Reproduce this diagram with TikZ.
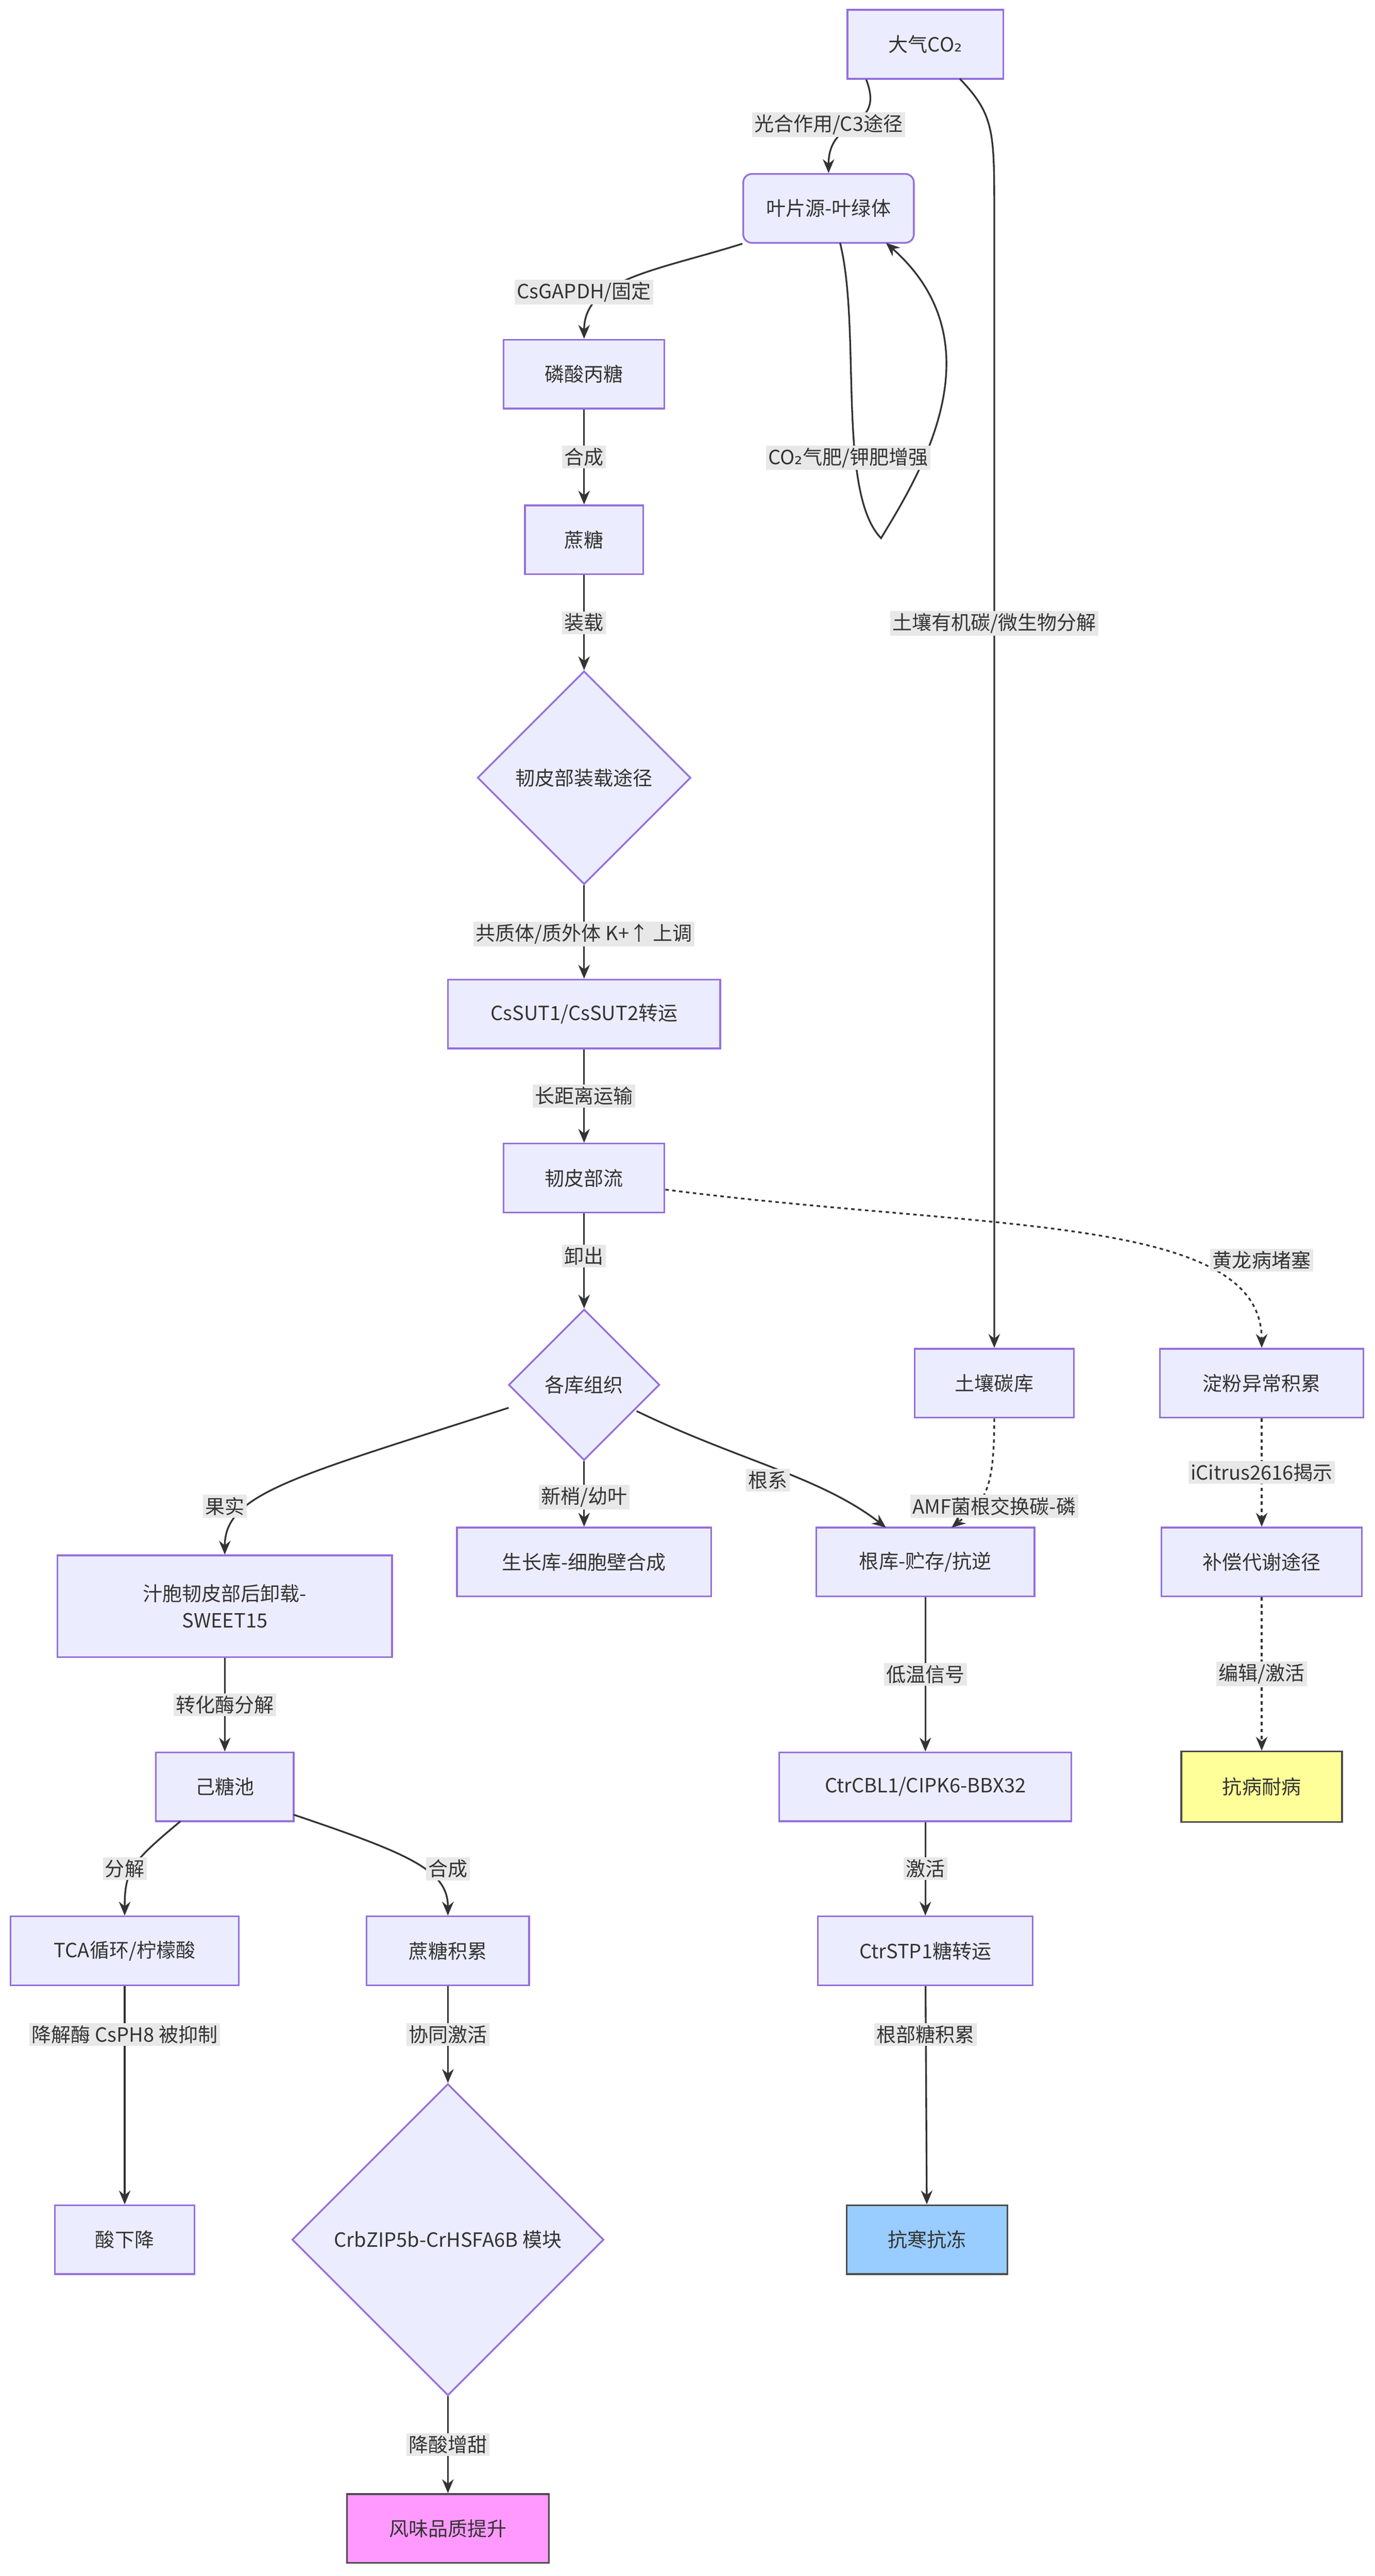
\documentclass[tikz,border=0pt]{standalone}
\usepackage{fontspec}
\setmainfont{Noto Sans CJK SC}
\newfontfamily\djv{DejaVu Sans}
\newcommand{\subtwo}{{\djv ₂}}
\usetikzlibrary{shapes.geometric,arrows.meta}
\definecolor{nf}{HTML}{ECECFF}
\definecolor{nb}{HTML}{9370DB}
\definecolor{tx}{HTML}{333333}
\definecolor{lb}{HTML}{E8E8E8}
\begin{document}
\begin{tikzpicture}[x=0.1cm,y=-0.1cm,
  font=\fontsize{34}{46}\selectfont, text=tx,
  box/.style={draw=nb,fill=nf,line width=3pt,inner sep=0pt,align=center},
  dia/.style={diamond,draw=nb,fill=nf,line width=3pt,inner sep=0pt,aspect=1,align=center},
  e/.style={draw=tx,line width=3pt,-{Stealth[length=24pt,width=20pt]}},
  d/.style={e,dash pattern=on 6pt off 6pt},
  lab/.style={fill=lb,inner sep=4pt,text=tx}]
\fill[white] (0,0) rectangle (838,1570);
\node[box,minimum width=9.5cm,minimum height=4.2cm] (co2) at (564,27) {大气CO\subtwo};
\node[box,rounded corners=15pt,minimum width=10.4cm,minimum height=4.2cm] (leaf) at (505,127) {叶片源-叶绿体};
\node[box,minimum width=9.8cm,minimum height=4.2cm] (tp) at (356,228) {磷酸丙糖};
\node[box,minimum width=7.2cm,minimum height=4.2cm] (suc) at (356,329) {蔗糖};
\node[dia,minimum width=13cm,minimum height=13cm] (load) at (356,474) {韧皮部装载途径};
\node[box,minimum width=16.6cm,minimum height=4.2cm] (sut) at (356,618) {CsSUT1/CsSUT2转运};
\node[box,minimum width=9.8cm,minimum height=4.2cm] (flow) at (356,718) {韧皮部流};
\node[dia,minimum width=9.2cm,minimum height=9.2cm] (sink) at (356,844) {各库组织};
\node[box,minimum width=9.7cm,minimum height=4.2cm] (soil) at (606,843) {土壤碳库};
\node[box,minimum width=12.4cm,minimum height=4.2cm] (starch) at (769,843) {淀粉异常积累};
\node[box,minimum width=20.4cm,minimum height=6.2cm] (juice) at (137,979) {汁胞韧皮部后卸载-\\SWEET15};
\node[box,minimum width=15.5cm,minimum height=4.2cm] (grow) at (356,952) {生长库-细胞壁合成};
\node[box,minimum width=13.3cm,minimum height=4.2cm] (root) at (564,952) {根库-贮存/抗逆};
\node[box,minimum width=12.2cm,minimum height=4.2cm] (comp) at (769,952) {补偿代谢途径};
\node[box,minimum width=8.4cm,minimum height=4.2cm] (hex) at (137,1089) {己糖池};
\node[box,minimum width=17.8cm,minimum height=4.2cm] (cbl) at (564,1089) {CtrCBL1/CIPK6-BBX32};
\node[box,fill={rgb,255:red,255;green,255;blue,153},draw=black!70,minimum width=9.8cm,minimum height=4.3cm] (dis) at (769,1089) {抗病耐病};
\node[box,minimum width=13.9cm,minimum height=4.2cm] (tca) at (76,1189) {TCA循环/柠檬酸};
\node[box,minimum width=9.9cm,minimum height=4.2cm] (sacc) at (273,1189) {蔗糖积累};
\node[box,minimum width=13.1cm,minimum height=4.2cm] (stp) at (564,1189) {CtrSTP1糖转运};
\node[box,minimum width=8.5cm,minimum height=4.2cm] (acid) at (76,1365) {酸下降};
\node[dia,minimum width=19cm,minimum height=19cm] (mod) at (273,1365) {CrbZIP5b-CrHSFA6B 模块};
\node[box,fill={rgb,255:red,153;green,204;blue,255},draw=black!70,minimum width=9.8cm,minimum height=4.2cm] (cold) at (565,1365) {抗寒抗冻};
\node[box,fill={rgb,255:red,255;green,153;blue,255},draw=black!70,minimum width=12.3cm,minimum height=4.2cm] (flav) at (273,1541) {风味品质提升};
% edges
\draw[e] (co2.south west) ++(12,0) .. controls (540,80) and (505,70) .. (leaf.north);
\node[lab] at (505,76) {光合作用/C3途径};
\draw[e] (585,48) .. controls (606,70) and (606,80) .. (606,130) -- (soil.north);
\node[lab] at (606,380) {土壤有机碳/微生物分解};
\draw[e] (leaf.south west) .. controls (400,165) and (356,170) .. (tp.north);
\node[lab] at (356,178) {CsGAPDH/固定};
\draw[e] (512,148) .. controls (525,200) and (510,300) .. (537,328) .. controls (560,290) and (610,210) .. (540,148);
\node[lab] at (517,279) {CO\subtwo 气肥/钾肥增强};
\draw[e] (tp) -- (suc) node[lab,midway] {合成};
\draw[e] (suc) -- (load) node[lab,midway] {装载};
\draw[e] (load) -- (sut) node[lab,pos=0.52] {共质体/质外体 K+↑ 上调};
\draw[e] (sut) -- (flow) node[lab,midway] {长距离运输};
\draw[e] (flow) -- (sink) node[lab,pos=0.45] {卸出};
\draw[d] (flow.east) ++(0,7) .. controls (600,750) and (769,740) .. (starch.north);
\node[lab] at (769,768) {黄龙病堵塞};
\draw[e] (310,858) .. controls (180,900) and (137,910) .. (juice.north);
\node[lab] at (137,918) {果实};
\draw[e] (sink) -- (grow) node[lab,pos=0.55] {新梢/幼叶};
\draw[e] (388,860) .. controls (450,890) and (500,900) .. (540,931);
\node[lab] at (468,902) {根系};
\draw[d] (soil.south) .. controls (606,910) and (600,915) .. (580,931);
\node[lab] at (606,918) {AMF菌根交换碳-磷};
\draw[d] (starch) -- (comp) node[lab,midway] {iCitrus2616揭示};
\draw[e] (juice) -- (hex) node[lab,midway] {转化酶分解};
\draw[e] (root) -- (cbl) node[lab,midway] {低温信号};
\draw[d] (comp) -- (dis) node[lab,midway] {编辑/激活};
\draw[e] (110,1110) .. controls (80,1135) and (76,1140) .. (tca.north);
\node[lab] at (76,1139) {分解};
\draw[e] (179,1106) .. controls (250,1130) and (273,1140) .. (sacc.north);
\node[lab] at (273,1139) {合成};
\draw[e] (cbl) -- (stp) node[lab,midway] {激活};
\draw[e] (tca) -- (acid);
\node[lab] at (76,1240) {降解酶 CsPH8 被抑制};
\draw[e] (sacc) -- (mod);
\node[lab] at (273,1240) {协同激活};
\draw[e] (stp) -- (cold);
\node[lab] at (564,1240) {根部糖积累};
\draw[e] (mod) -- (flav);
\node[lab] at (273,1490) {降酸增甜};
\end{tikzpicture}
\end{document}
